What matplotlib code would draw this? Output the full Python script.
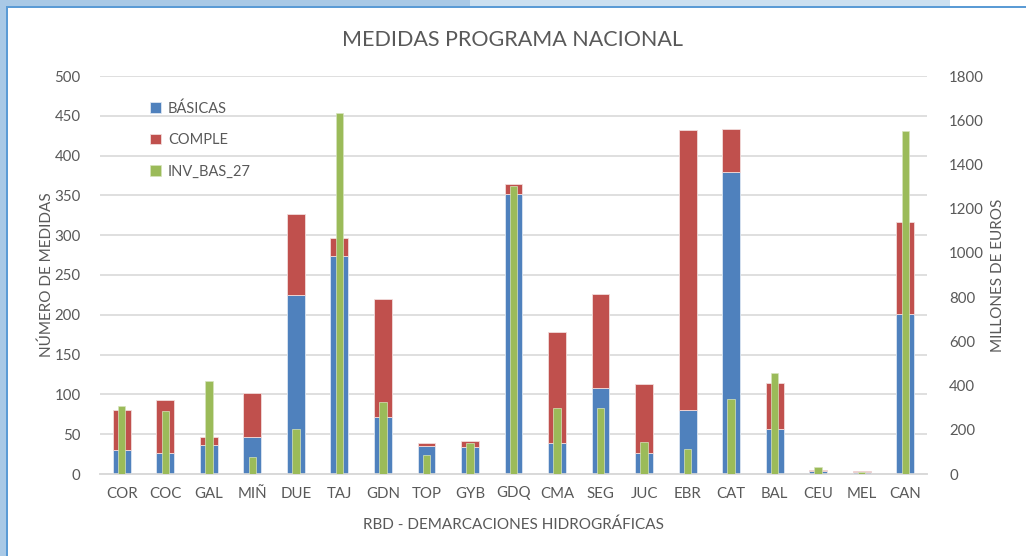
import matplotlib
matplotlib.use("Agg")
import matplotlib.pyplot as plt
from matplotlib.patches import Rectangle
import numpy as np

categories = ["COR", "COC", "GAL", "MIÑ", "DUE", "TAJ", "GDN", "TOP", "GYB", "GDQ",
              "CMA", "SEG", "JUC", "EBR", "CAT", "BAL", "CEU", "MEL", "CAN"]
basicas = [30, 26, 36, 46, 225, 274, 71, 35, 34, 352, 39, 108, 26, 81, 379, 56, 4, 2, 201]
comple_total = [80, 93, 47, 102, 327, 296, 220, 39, 42, 364, 179, 226, 113, 432, 434, 114, 5, 4, 317]
comple = [t - b for t, b in zip(comple_total, basicas)]
inv_bas_27 = [308, 283, 422, 78, 202, 1633, 327, 86, 140, 1301, 298, 298, 146, 113, 337, 455, 33, 9, 1550]

left_ticks = [0, 50, 100, 150, 200, 250, 300, 350, 400, 450, 500]
right_ticks = [0, 200, 400, 600, 800, 1000, 1200, 1400, 1600, 1800]

BLUE = "#4F81BD"
RED = "#C0504D"
GREEN = "#9BBB59"
TXT = "#595959"
FONT = "Lato"

plt.rcParams['font.family'] = [FONT, 'DejaVu Sans']

fig = plt.figure(figsize=(10.26, 5.56), dpi=100)
fig.patch.set_facecolor("white")

# frame decorations (window chrome)
fig.patches.append(Rectangle((0, 1 - 7/556), 470/1026, 7/556, transform=fig.transFigure,
                             facecolor="#A9C9E6", edgecolor="none", zorder=0))
fig.patches.append(Rectangle((470/1026, 1 - 7/556), 480/1026, 7/556, transform=fig.transFigure,
                             facecolor="#CCE0F0", edgecolor="none", zorder=0))
fig.patches.append(Rectangle((0, 0), 6/1026, 1, transform=fig.transFigure,
                             facecolor="#A9C9E6", edgecolor="none", zorder=0))
fig.patches.append(Rectangle((6/1026, 0), 2/1026, 1 - 6/556, transform=fig.transFigure,
                             facecolor="#5B9BD5", edgecolor="none", zorder=1))
fig.patches.append(Rectangle((6/1026, 1 - 8/556), 1 - 6/1026, 2/556, transform=fig.transFigure,
                             facecolor="#5B9BD5", edgecolor="none", zorder=1))

ax = fig.add_axes([100/1026, 1 - 474/556, 827/1026, 398/556])
ax2 = ax.twinx()

x = np.arange(len(categories))
bw = 0.41
gw = 0.17

b1 = ax.bar(x, basicas, bw, color=BLUE, edgecolor="#DCE6F2", linewidth=0.6, label="BÁSICAS", zorder=3)
b2 = ax.bar(x, comple, bw, bottom=basicas, color=RED, edgecolor="#F2DCDB", linewidth=0.6, label="COMPLE", zorder=3)
b3 = ax2.bar(x, inv_bas_27, gw, color=GREEN, edgecolor="#D7E4BD", linewidth=0.5, label="INV_BAS_27", zorder=3)

ax.set_xlim(-0.5, len(categories) - 0.5)
ax.set_ylim(0, 500)
ax2.set_ylim(0, 1800)
ax.set_yticks(left_ticks)
ax2.set_yticks(right_ticks)
ax.set_xticks(x)
ax.set_xticklabels(categories)

ax.yaxis.grid(True, color="#D9D9D9", linewidth=1.2, zorder=0)
ax.set_axisbelow(True)

for a in (ax, ax2):
    for s in ("top", "left", "right"):
        a.spines[s].set_visible(False)
    a.spines["bottom"].set_color("#D9D9D9")
    a.spines["bottom"].set_linewidth(1.2)
    a.tick_params(length=0, colors=TXT, labelsize=10.8)
ax.tick_params(axis="y", pad=14)
ax.tick_params(axis="x", pad=9)
ax2.tick_params(axis="y", pad=16)

ax.set_ylabel("NÚMERO DE MEDIDAS", color=TXT, fontsize=11, labelpad=0)
ax2.set_ylabel("MILLONES DE EUROS", color=TXT, fontsize=11, labelpad=5)
ax.set_xlabel("RBD - DEMARCACIONES HIDROGRÁFICAS", color=TXT, fontsize=11, labelpad=12)

fig.text(0.5, 1 - 40/556, "MEDIDAS PROGRAMA NACIONAL", ha="center", va="center",
         color=TXT, fontsize=15.5)

handles = [b1, b2, b3]
leg = ax.legend(handles, [h.get_label() for h in handles], loc="upper left",
                bbox_to_anchor=(0.045, 0.97), frameon=False, fontsize=10.5,
                handlelength=0.7, handleheight=0.7, handletextpad=0.5,
                labelspacing=1.2, labelcolor=TXT)

fig.savefig("out.png", dpi=100, facecolor="white")
